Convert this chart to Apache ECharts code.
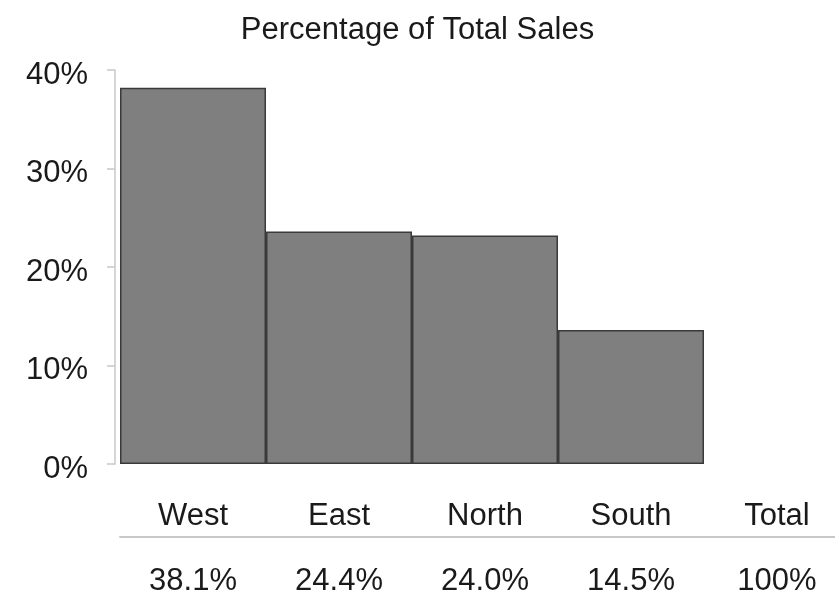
<!DOCTYPE html>
<html style="height: 100%">
    <head>
        <meta charset="utf-8">
    </head>
    <body style="height: 100%; margin: 0">
        <div id="container" style="width: 835px; height: 592px"></div>
        <script type="text/javascript" src="https://cdn.jsdelivr.net/npm/echarts@6/dist/echarts.min.js"></script>
    </body>
</html>
<script type="text/javascript">
    var categories = ['West', 'East', 'North', 'South', 'Total'];
    var barValues = [38.2, 23.6, 23.2, 13.6];
    var shareLabels = ['38.1%', '24.4%', '24.0%', '14.5%', '100%'];

    var font = "'Liberation Sans', Arial, sans-serif";
    var dom = document.getElementById("container");
    var myChart = echarts.init(dom);
    var option;

    var barData = categories.map(function (c, i) {
        return i < barValues.length ? barValues[i] : '-';
    });

    option = {
      animation: false,
      backgroundColor: '#fff',
      title: {
        text: 'Percentage of Total Sales',
        left: 'center',
        top: 10,
        textStyle: {
          fontFamily: font,
          fontSize: 31,
          fontWeight: 'normal',
          color: '#1a1a1a'
        }
      },
      grid: {
        left: 120,
        top: 70,
        width: 730,
        height: 394,
        outerBoundsMode: 'none'
      },
      xAxis: [
        {
          type: 'category',
          data: categories,
          position: 'bottom',
          axisLine: { show: false },
          axisTick: { show: false },
          axisLabel: {
            margin: 37,
            fontFamily: font,
            fontSize: 31,
            color: '#1a1a1a'
          }
        },
        {
          type: 'category',
          data: shareLabels,
          position: 'bottom',
          offset: 73,
          axisLine: { show: true, lineStyle: { color: '#c8c8c8', width: 2 } },
          axisTick: { show: false },
          axisLabel: {
            margin: 29,
            fontFamily: font,
            fontSize: 31,
            color: '#1a1a1a'
          }
        }
      ],
      yAxis: [
        {
          type: 'value',
          min: 0,
          max: 40,
          interval: 10,
          offset: 5,
          axisLine: { show: true, lineStyle: { color: '#c8c8c8', width: 1.5 } },
          axisTick: { show: true, length: 8, lineStyle: { color: '#c8c8c8', width: 1.5 } },
          splitLine: { show: false },
          axisLabel: {
            margin: 27,
            verticalAlign: 'top',
            lineHeight: 10,
            formatter: '{value}%',
            fontFamily: font,
            fontSize: 31,
            color: '#1a1a1a'
          }
        }
      ],
      series: [
        {
          name: 'Share',
          type: 'bar',
          xAxisIndex: 0,
          barWidth: '100%',
          barCategoryGap: 0,
          itemStyle: {
            color: '#7f7f7f',
            borderColor: '#3a3a3a',
            borderWidth: 1.5
          },
          data: barData
        }
      ]
    };

    if (option && typeof option === 'object') {
        myChart.setOption(option);
    }
</script>
